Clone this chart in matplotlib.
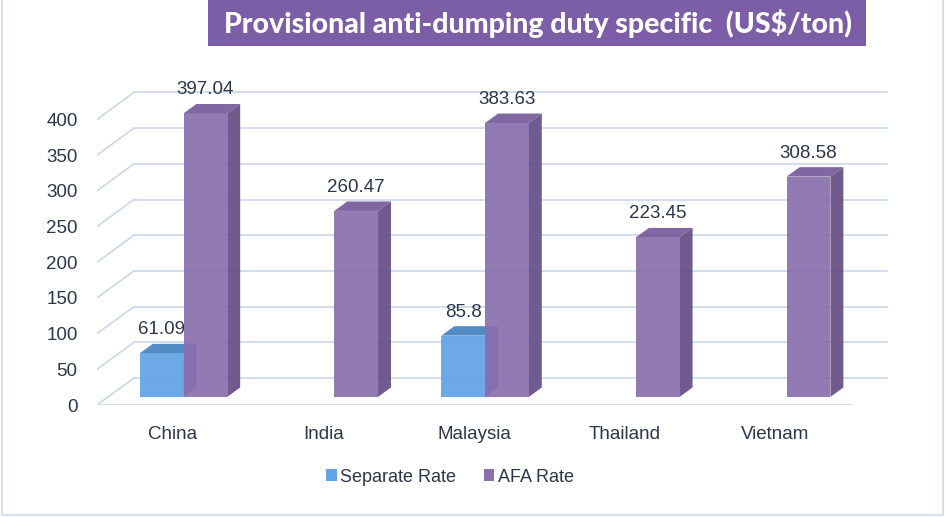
import matplotlib
matplotlib.use("Agg")
import matplotlib.pyplot as plt
from matplotlib.patches import Polygon, Rectangle, Patch
import numpy as np

# data
countries = ["China", "India", "Malaysia", "Thailand", "Vietnam"]
separate_rate = [61.09, np.nan, 85.8, np.nan, np.nan]
afa_rate = [397.04, 260.47, 383.63, 223.45, 308.58]
series_names = ["Separate Rate", "AFA Rate"]
yticks = [0, 50, 100, 150, 200, 250, 300, 350, 400]
title = "Provisional anti-dumping duty specific  (US$/ton)"

# face colours: front, top, side
colors = [("#62a3e6", "#4682c0", "#4272a6"),
          ("#8a70ae", "#765b9b", "#654d85")]
txt_col = "#2b3648"
grid_col = "#c9d8ec"

W, H = 946, 517
fig = plt.figure(figsize=(W / 100, H / 100), dpi=100)
plt.rcParams['font.family'] = ['Liberation Sans', 'DejaVu Sans']

# axes area in pixels: x 97..888, y 80..405 (0 at bottom)
px_per_x = 150.8
px_per_y = 0.714
x_lo, x_hi = 97, 888
y_lo, y_hi = 405, 80
ax = fig.add_axes([x_lo / W, 1 - y_lo / H, (x_hi - x_lo) / W, (y_lo - y_hi) / H])
ax.set_xlim(-0.5, -0.5 + (x_hi - x_lo) / px_per_x)
ax.set_ylim(0, (y_lo - y_hi) / px_per_y)
for s in ax.spines.values():
    s.set_visible(False)

# depth offset of the back wall, in data units
DX = 37 / px_per_x
DY = 27 / px_per_y


def proj(x, y, d):
    return (x + d * DX, y + d * DY)


n = len(countries)
left, right = -0.5, n - 0.5

# walls / gridlines
for v in yticks:
    a, b = proj(left, v, 1), proj(right, v, 1)
    ax.plot([a[0], b[0]], [a[1], b[1]], color=grid_col, lw=1.2, zorder=1)
    c = proj(left, v, 0)
    ax.plot([c[0], a[0]], [c[1], a[1]], color=grid_col, lw=1.2, zorder=1)
f0, f1 = proj(left, 0, 0), proj(right, 0, 0)
ax.plot([f0[0], f1[0]], [f0[1], f1[1]], color=grid_col, lw=1.2, zorder=1)

# bars
bw = 0.29
d0, d1 = 0.3, 0.65
for s, vals in enumerate([separate_rate, afa_rate]):
    cf, ct, cs = colors[s]
    for i, h in enumerate(vals):
        if np.isnan(h):
            continue
        x0 = i - bw + s * bw
        x1 = x0 + bw
        front = [proj(x0, 0, d0), proj(x1, 0, d0), proj(x1, h, d0), proj(x0, h, d0)]
        top = [proj(x0, h, d0), proj(x1, h, d0), proj(x1, h, d1), proj(x0, h, d1)]
        side = [proj(x1, 0, d0), proj(x1, 0, d1), proj(x1, h, d1), proj(x1, h, d0)]
        z = 2 + s
        ax.add_patch(Polygon(side, closed=True, fc=cs, ec="none", alpha=0.93, zorder=z))
        ax.add_patch(Polygon(top, closed=True, fc=ct, ec="none", alpha=0.93, zorder=z))
        ax.add_patch(Polygon(front, closed=True, fc=cf, ec="none", alpha=0.93, zorder=z))
        lx = proj((x0 + x1) / 2, h, d0)[0]
        ly = proj(x0, h, d1)[1]
        ax.annotate(f"{h:g}", (lx, ly), xytext=(0, 4),
                    textcoords="offset points", ha="center", va="bottom",
                    fontsize=13.5, color=txt_col, zorder=6, annotation_clip=False)

ax.set_yticks(yticks)
ax.set_xticks(range(n))
ax.set_xticklabels(countries)
ax.tick_params(axis="y", length=0, pad=14, labelsize=13.5, labelcolor=txt_col)
ax.tick_params(axis="x", length=0, pad=15, labelsize=13.5, labelcolor=txt_col)

# legend
handles = [Patch(fc=colors[k][0], ec="none") for k in range(2)]
fig.legend(handles, series_names, loc="center", bbox_to_anchor=(450 / W, 1 - 477 / H),
           ncol=2, frameon=False, fontsize=13, labelcolor=txt_col,
           handlelength=0.6, handleheight=0.6, handletextpad=0.2, columnspacing=1.5)

# title box
fig.patches.append(Rectangle((208 / W, 1 - 46 / H), (866 - 208) / W, 46 / H,
                             transform=fig.transFigure, fc="#7b5ea6", ec="none", zorder=0))
fig.text(538 / W, 1 - 23 / H, title, ha="center", va="center", color="white",
         fontsize=20.5, fontweight="black", family=["Lato", "DejaVu Sans"])

# outer frame
fig.patches.append(Rectangle((2 / W, 2 / H), 941 / W, 1.2, transform=fig.transFigure,
                             fc="none", ec="#d3e0f0", lw=1.5))

fig.savefig("out.png", dpi=100)
